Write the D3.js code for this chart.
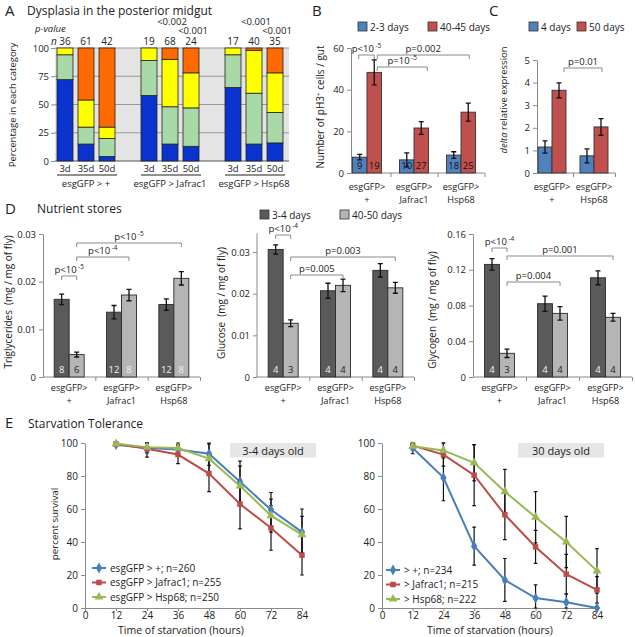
<!DOCTYPE html>
<html><head><meta charset="utf-8">
<script src="https://cdn.jsdelivr.net/npm/d3@7/dist/d3.min.js"></script>
<style>
body{margin:0;background:#fff}
svg{display:block}
text{font-family:"Open Sans",sans-serif;fill:#222}
</style>
</head><body>
<svg id="chart" width="635" height="637"></svg>
<script>
// ---------------- DATA ----------------
// Panel A: dysplasia categories (percent of guts)
const aGroups = ["esgGFP > +", "esgGFP > Jafrac1", "esgGFP > Hsp68"];
const aAges = ["3d", "35d", "50d"];
const aLevels = ["level1", "level2", "level3", "level4"];
const aLevel1 = [72, 15, 4, 58, 15, 13, 65, 15, 16];
const aLevel2 = [22, 15, 16, 31, 33, 34, 29, 45, 27];
const aLevel3 = [6, 24, 10, 11, 42, 31, 6, 38, 35];
const aLevel4 = [0, 46, 70, 0, 10, 22, 0, 2, 22];
const aN = [36, 61, 42, 19, 68, 24, 17, 40, 35];
const aPValue = ["", "", "", "", "<0.002", "<0.001", "", "<0.001", "<0.001"];
const aTicks = [0, 25, 50, 75, 100];

// Panel B: pH3+ cells per gut
const bGroupsTop = ["esgGFP>", "esgGFP>", "esgGFP>"];
const bGroupsBottom = ["+", "Jafrac1", "Hsp68"];
const bSeries = ["2-3 days", "40-45 days"];
const bYoung = [7.6, 6.3, 8.6];
const bYoungErr = [1.3, 3.4, 1.6];
const bYoungN = [9, 10, 18];
const bOld = [48.3, 21.6, 29.2];
const bOldErr = [6, 3.1, 4.3];
const bOldN = [19, 27, 25];
const bTicks = [0, 20, 40, 60];

// Panel C: delta relative expression
const cGroupsTop = ["esgGFP>", "esgGFP>"];
const cGroupsBottom = ["+", "Hsp68"];
const cSeries = ["4 days", "50 days"];
const cYoung = [1.15, 0.76];
const cYoungErr = [0.27, 0.31];
const cOld = [3.66, 2.04];
const cOldErr = [0.33, 0.37];
const cTicks = [0, 1, 2, 3, 4, 5];

// Panel D: nutrient stores
const dGroupsTop = ["esgGFP>", "esgGFP>", "esgGFP>"];
const dGroupsBottom = ["+", "Jafrac1", "Hsp68"];
const dSeries = ["3-4 days", "40-50 days"];
const triYoung = [0.0163, 0.0136, 0.0152];
const triYoungErr = [0.0011, 0.0014, 0.0012];
const triOld = [0.0047, 0.0172, 0.0207];
const triOldErr = [0.0005, 0.0012, 0.0014];
const triYoungN = [8, 12, 12];
const triOldN = [6, 8, 8];
const triTicks = [0, 0.01, 0.02, 0.03];
const gluYoung = [0.0306, 0.0207, 0.0256];
const gluYoungErr = [0.0011, 0.0018, 0.0016];
const gluOld = [0.0129, 0.0220, 0.0214];
const gluOldErr = [0.0008, 0.0015, 0.0013];
const gluYoungN = [4, 4, 4];
const gluOldN = [3, 4, 4];
const gluTicks = [0, 0.01, 0.02, 0.03];
const glyYoung = [0.126, 0.082, 0.111];
const glyYoungErr = [0.0065, 0.0085, 0.0078];
const glyOld = [0.0265, 0.0712, 0.0668];
const glyOldErr = [0.0047, 0.0075, 0.0043];
const glyYoungN = [4, 4, 4];
const glyOldN = [3, 4, 4];
const glyTicks = [0, 0.04, 0.08, 0.12, 0.16];

// Panel E: starvation survival
const eTimes = [12, 24, 36, 48, 60, 72, 84];
const eTicksX = [0, 12, 24, 36, 48, 60, 72, 84];
const eTicksY = [0, 20, 40, 60, 80, 100];
const eYoungNames = ["esgGFP > +; n=260", "esgGFP > Jafrac1; n=255", "esgGFP > Hsp68; n=250"];
const eYoungCtrl = [99, 97, 96, 93.5, 76.5, 59.5, 46];
const eYoungCtrlErr = [1, 3, 3, 7, 12.5, 10.5, 14];
const eYoungJaf = [99.5, 96.5, 93, 81.5, 63, 48.5, 32];
const eYoungJafErr = [1, 5, 5.5, 11, 15, 13.5, 12];
const eYoungHsp = [99.5, 97.5, 97, 90.5, 74, 56, 44.5];
const eYoungHspErr = [1, 3, 3, 9, 12, 10, 11];
const eOldNames = ["> +; n=234", "> Jafrac1; n=215", "> Hsp68; n=222"];
const eOldCtrl = [97, 79, 37.5, 17, 6, 3.5, 0];
const eOldCtrlErr = [3.5, 14, 11.5, 13, 8, 5, 0.5];
const eOldJaf = [98.5, 93, 80.5, 56.5, 37, 20.5, 11];
const eOldJafErr = [1, 7, 18.5, 15, 10, 12, 8];
const eOldHsp = [98, 95.5, 88, 70.5, 55, 40, 22.5];
const eOldHspErr = [2, 4.5, 11, 13.5, 15.5, 15.5, 13.5];

// ---------------- DRAWING ----------------
const svg = d3.select("#chart");
svg.append("rect").attr("width", 635).attr("height", 637).attr("fill", "#fff");

function txt(g, x, y, s, o = {}) {
  const t = g.append("text").attr("x", x).attr("y", y).text(s)
    .attr("font-size", o.size || 10)
    .attr("text-anchor", o.anchor || "start")
    .style("fill", o.fill || "#222");
  if (o.italic) t.attr("font-style", "italic");
  if (o.rotate) t.attr("transform", `rotate(-90,${x},${y})`);
  return t;
}
function supText(g, x, y, base, sup, o = {}) {
  const t = g.append("text").attr("x", x).attr("y", y)
    .attr("font-size", o.size || 9.5).attr("text-anchor", o.anchor || "middle").style("fill", "#222");
  t.append("tspan").text(base);
  if (sup) t.append("tspan").attr("dy", -3.5).attr("dx", 1.5).attr("font-size", 6.5).text(sup);
  return t;
}
function bracket(g, x1, x2, y, drop, label, sup, ty) {
  g.append("path").attr("d", `M${x1},${y + drop}V${y}H${x2}V${y + drop}`)
    .attr("fill", "none").attr("stroke", "#8a8a8a").attr("stroke-width", 1);
  supText(g, (x1 + x2) / 2, ty, label, sup);
}
function styleAxis(ax, size) {
  ax.attr("font-family", null).attr("font-size", null);
  ax.selectAll("path.domain").attr("stroke", "#8a8a8a");
  ax.selectAll(".tick line").attr("stroke", "#8a8a8a");
  ax.selectAll(".tick text").attr("font-size", size || 10).style("fill", "#222");
}

// Panel letters and titles
const gT = svg.append("g");
txt(gT, 5, 16, "A", { size: 15 });
txt(gT, 27, 15, "Dysplasia in the posterior midgut", { size: 12 });
txt(gT, 312, 16, "B", { size: 15 });
txt(gT, 489, 16, "C", { size: 15 });
txt(gT, 5, 214, "D", { size: 15 });
txt(gT, 37, 213, "Nutrient stores", { size: 12 });
txt(gT, 5, 428, "E", { size: 15 });
txt(gT, 28, 428, "Starvation Tolerance", { size: 12 });

// ---------- Panel A ----------
(function () {
  const g = svg.append("g");
  const fr = { l: 55, r: 289, t: 48, b: 161 };
  const y = d3.scaleLinear().domain([0, 100]).range([fr.b, fr.t]);
  const x0 = d3.scaleBand().domain(aGroups).range([44, 296]);
  const x1 = d3.scaleBand().domain(aAges).range([10.5, 73.5]).paddingInner(0.238).paddingOuter(0.119);
  const colors = ["#0a32cf", "#a9d9a6", "#ffff00", "#ff6a00"];
  g.append("rect").attr("x", fr.l).attr("y", fr.t).attr("width", fr.r - fr.l).attr("height", fr.b - fr.t).attr("fill", "#e4e4e4");
  g.selectAll("line.grid").data(aTicks).join("line").attr("class", "grid")
    .attr("x1", fr.l).attr("x2", fr.r).attr("y1", d => y(d)).attr("y2", d => y(d))
    .attr("stroke", d => d === 0 ? "#555" : "#999").attr("stroke-width", 1);
  const ay = g.append("g").attr("transform", `translate(${fr.l},0)`)
    .call(d3.axisLeft(y).tickValues(aTicks).tickSize(4).tickPadding(2).tickSizeOuter(0));
  styleAxis(ay, 9.5);
  ay.select("path.domain").remove();
  const rows = aGroups.flatMap((grp, gi) => aAges.map((age, ai) => {
    const i = gi * aAges.length + ai;
    return { grp, age, i, level1: aLevel1[i], level2: aLevel2[i], level3: aLevel3[i], level4: aLevel4[i] };
  }));
  const stacked = d3.stack().keys(aLevels)(rows);
  g.selectAll("g.layer").data(stacked).join("g").attr("class", "layer").attr("fill", (d, i) => colors[i])
    .selectAll("rect").data(d => d.filter(s => s[1] - s[0] > 0)).join("rect")
    .attr("x", d => x0(d.data.grp) + x1(d.data.age)).attr("width", x1.bandwidth())
    .attr("y", d => y(d[1])).attr("height", d => y(d[0]) - y(d[1]))
    .attr("stroke", "#222").attr("stroke-width", 0.8);
  const cx = r => x0(r.grp) + x1(r.age) + x1.bandwidth() / 2;
  rows.forEach(r => {
    txt(g, cx(r), 172, r.age, { size: 9.5, anchor: "middle" });
    txt(g, cx(r), 44.5, aN[r.i], { size: 10, anchor: "middle" });
    if (aPValue[r.i]) {
      const upper = r.age === aAges[1];
      txt(g, cx(r) + 2, upper ? 24.5 : 33.5, aPValue[r.i], { size: 9.5, anchor: "middle" });
    }
  });
  aGroups.forEach(grp => {
    const xa = x0(grp) + x1(aAges[0]), xb = x0(grp) + x1(aAges[2]) + x1.bandwidth();
    g.append("line").attr("x1", xa).attr("x2", xb + 2).attr("y1", 175).attr("y2", 175).attr("stroke", "#222").attr("stroke-width", 1.2);
    txt(g, (xa + xb) / 2, 186.5, grp, { size: 9.5, anchor: "middle" });
  });
  txt(g, 35, 32, "p-value", { size: 9.5, italic: true });
  txt(g, 51, 44.5, "n", { size: 10, italic: true });
  txt(g, 16, 105, "Percentage in each category", { size: 9.5, anchor: "middle", rotate: true });
})();

// ---------- generic grouped bar panel ----------
function groupedPanel(cfg) {
  const g = svg.append("g");
  const y = d3.scaleLinear().domain(cfg.domain).range(cfg.yRange);
  const n = cfg.groupsTop.length;
  const x0 = d3.scaleBand().domain(d3.range(n)).range(cfg.xRange);
  const bw = x0.bandwidth();
  const x1 = d3.scaleBand().domain(cfg.series.map(s => s.name)).range([bw / 2 - cfg.barW, bw / 2 + cfg.barW]);
  const axisX = cfg.axisX != null ? cfg.axisX : cfg.xRange[0];
  const y0 = y(0);
  const ay = g.append("g").attr("transform", `translate(${axisX},0)`)
    .call(d3.axisLeft(y).tickValues(cfg.ticks).tickFormat(cfg.fmt).tickSize(4).tickPadding(3).tickSizeOuter(0));
  styleAxis(ay, 9.5);
  if (cfg.axisTop != null) {
    ay.select("path.domain").attr("d", `M0,${y(cfg.axisTop)}V${y0}`);
  }
  const xb = d3.scaleLinear().domain([0, n]).range(cfg.xRange);
  const ax = g.append("g").attr("transform", `translate(0,${y0})`)
    .call(d3.axisBottom(xb).tickValues(d3.range(1, n + 1)).tickFormat("").tickSize(4).tickSizeOuter(0));
  styleAxis(ax, 9.5);
  ax.select("path.domain").attr("d", `M${axisX},0H${cfg.xRange[1]}`);
  cfg.series.forEach(s => {
    const bars = g.append("g");
    bars.selectAll("rect").data(s.values).join("rect")
      .attr("x", (d, i) => x0(i) + x1(s.name)).attr("width", x1.bandwidth())
      .attr("y", d => y(d)).attr("height", d => y0 - y(d))
      .attr("fill", s.color).attr("stroke", cfg.stroke || "#333").attr("stroke-width", 0.9);
    const cxs = i => x0(i) + x1(s.name) + x1.bandwidth() / 2;
    s.values.forEach((v, i) => {
      const e = s.errs[i], cx = cxs(i);
      const top = y(v + e), bot = Math.min(y(v - e), y0);
      g.append("path").attr("d", `M${cx},${top}V${bot}M${cx - 2.5},${top}H${cx + 2.5}` + (y(v - e) <= y0 ? `M${cx - 2.5},${bot}H${cx + 2.5}` : ""))
        .attr("stroke", "#111").attr("stroke-width", 1.3).attr("fill", "none");
      if (s.ns) txt(g, cx, y0 - 4, s.ns[i], { size: 9.5, anchor: "middle", fill: s.nFill[i] });
    });
  });
  d3.range(n).forEach(i => {
    const cx = x0(i) + bw / 2;
    txt(g, cx, cfg.labelY, cfg.groupsTop[i], { size: 9.2, anchor: "middle" });
    txt(g, cx, cfg.labelY + 12.5, cfg.groupsBottom[i], { size: 9.2, anchor: "middle" });
  });
  return { g, y, cx: (i, name) => x0(i) + x1(name) + x1.bandwidth() / 2 };
}

function legendBox(g, x, y, color, label, size) {
  g.append("rect").attr("x", x).attr("y", y).attr("width", 9).attr("height", 9).attr("fill", color).attr("stroke", "#333").attr("stroke-width", 0.8);
  txt(g, x + 12, y + 8.5, label, { size: size || 10 });
}

// ---------- Panel B ----------
(function () {
  const blue = "#4f81bd", red = "#c0504d";
  const p = groupedPanel({
    domain: [0, 60], yRange: [173, 48], xRange: [343.5, 484.5], axisX: 351, barW: 14.5,
    ticks: bTicks, fmt: d3.format("d"), labelY: 190,
    groupsTop: bGroupsTop, groupsBottom: bGroupsBottom,
    series: [
      { name: bSeries[0], values: bYoung, errs: bYoungErr, color: blue, ns: bYoungN, nFill: ["#111", "#111", "#111"] },
      { name: bSeries[1], values: bOld, errs: bOldErr, color: red, ns: bOldN, nFill: ["#111", "#111", "#111"] }
    ]
  });
  const g = p.g;
  legendBox(g, 358, 22, blue, bSeries[0]);
  legendBox(g, 428, 22, red, bSeries[1]);
  const t = g.append("text").attr("x", 324).attr("y", 107).attr("text-anchor", "middle").attr("font-size", 10)
    .attr("transform", "rotate(-90,324,107)").style("fill", "#222");
  t.append("tspan").text("Number of pH3");
  t.append("tspan").attr("dy", -3).attr("font-size", 6.5).text("+");
  t.append("tspan").attr("dy", 3).text(" cells / gut");
  const o = bSeries[1], yg = bSeries[0];
  bracket(g, p.cx(0, yg) - 1, p.cx(0, o), 55, 4, "p<10", "-5", 51.5);
  bracket(g, p.cx(0, o) + 3, p.cx(2, o) + 1, 55, 4, "p=0.002", "", 51.5);
  bracket(g, p.cx(0, o) + 3, p.cx(1, o) + 6, 67, 4, "p=10", "-5", 63.5);
})();

// ---------- Panel C ----------
(function () {
  const blue = "#4f81bd", red = "#c0504d";
  const p = groupedPanel({
    domain: [0, 5], yRange: [173, 60], xRange: [531, 615], axisX: 537, barW: 14,
    ticks: cTicks, fmt: d3.format("d"), labelY: 190,
    groupsTop: cGroupsTop, groupsBottom: cGroupsBottom,
    series: [
      { name: cSeries[0], values: cYoung, errs: cYoungErr, color: blue },
      { name: cSeries[1], values: cOld, errs: cOldErr, color: red }
    ]
  });
  const g = p.g;
  legendBox(g, 529, 22, blue, cSeries[0]);
  legendBox(g, 577, 22, red, cSeries[1]);
  const t = g.append("text").attr("x", 507).attr("y", 100).attr("text-anchor", "middle").attr("font-size", 9.5)
    .attr("transform", "rotate(-90,507,100)").style("fill", "#222");
  t.append("tspan").attr("font-style", "italic").text("delta");
  t.append("tspan").text(" relative  expression");
  bracket(g, p.cx(0, cSeries[1]) + 5, p.cx(1, cSeries[1]) + 1, 68, 4, "p=0.01", "", 64.5);
})();

// ---------- Panel D ----------
const dDark = "#5a5a5a", dLight = "#b5b5b5";
function dPanel(cfg) {
  const p = groupedPanel({
    domain: [0, cfg.max], yRange: cfg.yRange, xRange: cfg.xRange, barW: 15, axisTop: cfg.axisTop,
    ticks: cfg.ticks, fmt: d => d === 0 ? "0" : d3.format(".2f")(d), labelY: 391,
    groupsTop: dGroupsTop, groupsBottom: dGroupsBottom, stroke: "#2a2a2a",
    series: [
      { name: dSeries[0], values: cfg.young, errs: cfg.youngErr, color: dDark, ns: cfg.youngN, nFill: ["#f2f2f2", "#f2f2f2", "#f2f2f2"] },
      { name: dSeries[1], values: cfg.old, errs: cfg.oldErr, color: dLight, ns: cfg.oldN, nFill: cfg.oldNFill }
    ]
  });
  const t = p.g.append("text").attr("x", cfg.titleX).attr("y", cfg.titleY).attr("text-anchor", "middle").attr("font-size", 10)
    .attr("transform", `rotate(-90,${cfg.titleX},${cfg.titleY})`).style("fill", "#222");
  t.append("tspan").text(cfg.title);
  t.append("tspan").attr("dx", 5).text("(mg / mg of fly)");
  return p;
}
(function () {
  const Y = dSeries[0], O = dSeries[1];
  const tri = dPanel({
    max: 0.03, yRange: [377, 234], xRange: [43, 200], ticks: triTicks,
    young: triYoung, youngErr: triYoungErr, old: triOld, oldErr: triOldErr,
    youngN: triYoungN, oldN: triOldN, oldNFill: ["#222", "#f2f2f2", "#f2f2f2"],
    title: "Triglycerides", titleX: 12, titleY: 302
  });
  bracket(tri.g, tri.cx(0, Y), tri.cx(0, O), 276, 4, "p<10", "-5", 272.5);
  bracket(tri.g, tri.cx(0, O), tri.cx(1, O), 257, 4, "p<10", "-4", 253.5);
  bracket(tri.g, tri.cx(0, O), tri.cx(2, O), 243, 4, "p<10", "-5", 239.5);

  const glu = dPanel({
    max: 0.03, yRange: [377, 252], xRange: [257, 414], axisTop: 0.0345, ticks: gluTicks,
    young: gluYoung, youngErr: gluYoungErr, old: gluOld, oldErr: gluOldErr,
    youngN: gluYoungN, oldN: gluOldN, oldNFill: ["#222", "#222", "#222"],
    title: "Glucose", titleX: 225, titleY: 303
  });
  bracket(glu.g, glu.cx(0, Y), glu.cx(0, O), 235, 4, "p<10", "-4", 231.5);
  bracket(glu.g, glu.cx(0, O), glu.cx(2, O), 257, 4, "p=0.003", "", 253.5);
  bracket(glu.g, glu.cx(0, O), glu.cx(1, O), 275, 4, "p=0.005", "", 271.5);
  legendBox(glu.g, 260, 210, dDark, dSeries[0], 10);
  legendBox(glu.g, 340, 210, dLight, dSeries[1], 10);

  const gly = dPanel({
    max: 0.16, yRange: [377, 234], xRange: [473, 632], ticks: glyTicks,
    young: glyYoung, youngErr: glyYoungErr, old: glyOld, oldErr: glyOldErr,
    youngN: glyYoungN, oldN: glyOldN, oldNFill: ["#222", "#222", "#222"],
    title: "Glycogen", titleX: 436, titleY: 310
  });
  bracket(gly.g, gly.cx(0, Y), gly.cx(0, O), 248, 4, "p<10", "-4", 244.5);
  bracket(gly.g, gly.cx(0, O), gly.cx(2, O), 256, 4, "p=0.001", "", 252.5);
  bracket(gly.g, gly.cx(0, O), gly.cx(1, O), 282, 4, "p=0.004", "", 278.5);
})();

// ---------- Panel E ----------
const eColors = ["#4a7ebb", "#be4b48", "#98b954"];
const eSymbols = [d3.symbolDiamond, d3.symbolSquare, d3.symbolTriangle];
const eSymSize = [34, 30, 34];
function survivalPanel(cfg) {
  const g = svg.append("g");
  const x = d3.scaleLinear().domain([0, 84]).range(cfg.xRange);
  const y = d3.scaleLinear().domain([0, 100]).range([608, 443]);
  const ay = g.append("g").attr("transform", `translate(${x(0)},0)`)
    .call(d3.axisLeft(y).tickValues(eTicksY).tickSize(4).tickPadding(3).tickSizeOuter(0));
  styleAxis(ay, 10);
  const ax = g.append("g").attr("transform", `translate(0,${y(0)})`)
    .call(d3.axisBottom(x).tickValues(eTicksX).tickSize(3).tickPadding(1).tickSizeOuter(0));
  styleAxis(ax, 10);
  txt(g, cfg.xTitleX, 634, "Time of starvation (hours)", { size: 10.5, anchor: "middle" });
  if (cfg.yTitle) txt(g, 58, 524, cfg.yTitle, { size: 9.8, anchor: "middle", rotate: true });
  g.append("rect").attr("x", cfg.box[0]).attr("y", 443).attr("width", cfg.box[1] - cfg.box[0]).attr("height", 14.5).attr("fill", "#e6e6e6");
  txt(g, (cfg.box[0] + cfg.box[1]) / 2, 454.5, cfg.boxLabel, { size: 11, anchor: "middle" });
  const line = d3.line().x((d, i) => x(eTimes[i])).y(d => y(d));
  cfg.series.forEach((s, k) => {
    g.append("path").attr("d", line(s.values)).attr("fill", "none").attr("stroke", eColors[k]).attr("stroke-width", 2);
  });
  cfg.series.forEach((s, k) => {
    s.values.forEach((v, i) => {
      const cx = x(eTimes[i]), t = y(Math.min(100, v + s.errs[i])), b = y(Math.max(0, v - s.errs[i]));
      g.append("path").attr("d", `M${cx},${t}V${b}M${cx - 1.8},${t}H${cx + 1.8}M${cx - 1.8},${b}H${cx + 1.8}`)
        .attr("stroke", "#111").attr("stroke-width", 1.2).attr("fill", "none");
    });
  });
  cfg.series.forEach((s, k) => {
    g.selectAll(null).data(s.values).join("path")
      .attr("transform", (d, i) => `translate(${x(eTimes[i])},${y(d)})`)
      .attr("d", d3.symbol().type(eSymbols[k]).size(eSymSize[k])).attr("fill", eColors[k]);
  });
  cfg.series.forEach((s, k) => {
    const ly = cfg.legend[1] + k * 14.5;
    g.append("line").attr("x1", cfg.legend[0]).attr("x2", cfg.legend[0] + 14).attr("y1", ly).attr("y2", ly).attr("stroke", eColors[k]).attr("stroke-width", 2);
    g.append("path").attr("transform", `translate(${cfg.legend[0] + 7},${ly})`).attr("d", d3.symbol().type(eSymbols[k]).size(eSymSize[k])).attr("fill", eColors[k]);
    txt(g, cfg.legend[0] + 18, ly + 3.5, s.name, { size: 10 });
  });
}
survivalPanel({
  xRange: [85, 302], xTitleX: 181, yTitle: "percent survival", box: [230, 316], boxLabel: "3-4 days old",
  legend: [92, 568],
  series: [
    { name: eYoungNames[0], values: eYoungCtrl, errs: eYoungCtrlErr },
    { name: eYoungNames[1], values: eYoungJaf, errs: eYoungJafErr },
    { name: eYoungNames[2], values: eYoungHsp, errs: eYoungHspErr }
  ]
});
survivalPanel({
  xRange: [382, 597], xTitleX: 490, yTitle: null, box: [518, 604], boxLabel: "30 days old",
  legend: [386, 570],
  series: [
    { name: eOldNames[0], values: eOldCtrl, errs: eOldCtrlErr },
    { name: eOldNames[1], values: eOldJaf, errs: eOldJafErr },
    { name: eOldNames[2], values: eOldHsp, errs: eOldHspErr }
  ]
});
</script>
</body></html>
